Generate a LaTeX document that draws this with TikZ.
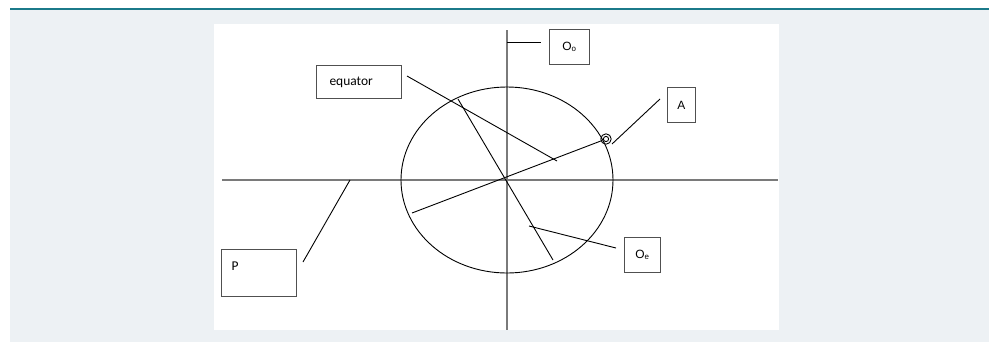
\documentclass[tikz,border=0pt]{standalone}
\usetikzlibrary{calc}
\usepackage{fontspec}
\setmainfont{Carlito}
\newfontfamily\arialf{Liberation Sans}
\definecolor{bggray}{HTML}{EDF1F4}
\definecolor{tealline}{HTML}{1B7A8A}
\definecolor{axisgray}{HTML}{7A7A7A}
\definecolor{boxedge}{HTML}{505050}
\tikzset{
  lbl/.style={draw=boxedge, line width=0.9bp, fill=white, inner sep=0pt, anchor=north west},
  axis/.style={draw=axisgray, line width=1.3bp},
  conn/.style={draw=black, line width=0.9bp},
}
\begin{document}
\begin{tikzpicture}[x=1bp,y=-1bp]
\useasboundingbox (0,0) rectangle (989,342);
\fill[white] (0,0) rectangle (989,342);
\fill[bggray] (10,9) rectangle (989,342);
\draw[tealline, line width=2bp] (10,9) -- (989,9);
\fill[white] (214,24) rectangle (779,330);
% axes
\coordinate (xl) at (222,180);
\coordinate (xr) at (778,180);
\coordinate (yt) at (507,30);
\coordinate (yb) at (507,330);
\coordinate (ctr) at (507,180);
\draw[axis] (xl) -- (xr);
\draw[axis] (yt) -- (yb);
% ellipse
\draw[conn] (ctr) ellipse [x radius=106, y radius=93];
% boxes
\node[lbl, minimum width=40bp, minimum height=35bp] (Oo) at (549,29) {};
\node[font=\arialf\fontsize{12}{14}\selectfont] at (Oo.center) {O\textsubscript{o}};
\node[lbl, minimum width=85bp, minimum height=33bp] (eq) at (316,65) {};
\node[font=\fontsize{13.5}{16}\selectfont, anchor=west] at ([xshift=10bp]eq.west) {equator};
\node[lbl, minimum width=28bp, minimum height=35bp] (A) at (667,87) {};
\node[font=\arialf\fontsize{12}{14}\selectfont] at (A.center) {A};
\node[lbl, minimum width=36bp, minimum height=35bp] (Oe) at (624,237) {};
\node[font=\arialf\fontsize{12}{14}\selectfont] at (Oe.center) {O\textsubscript{e}};
\node[lbl, minimum width=75bp, minimum height=47bp] (P) at (221,249) {};
\node[font=\fontsize{13.5}{16}\selectfont, anchor=west] at (228,266) {P};
% connectors
\coordinate (ooL) at (541,42);
\draw[conn] (507,42) -- (ooL);
\coordinate (eqE) at (557,161);
\draw[conn] (407,76) -- (eqE);
\coordinate (d1a) at (458,99);
\coordinate (d1b) at (553,260);
\draw[conn] (d1a) -- (d1b);
\coordinate (d2a) at (412,213);
\coordinate (mk) at (606,139);
\draw[conn] (d2a) -- ($(mk)!5bp!(d2a)$);
\draw[conn] (mk) circle[radius=5.2bp];
\draw[conn] (mk) circle[radius=2.6bp];
\draw[conn] (612,144) -- (660,99);
\coordinate (oeS) at (529,226);
\draw[conn] (oeS) -- (616,248);
\coordinate (pT) at (350,180);
\draw[conn] (303,262) -- (pT);
\end{tikzpicture}
\end{document}
